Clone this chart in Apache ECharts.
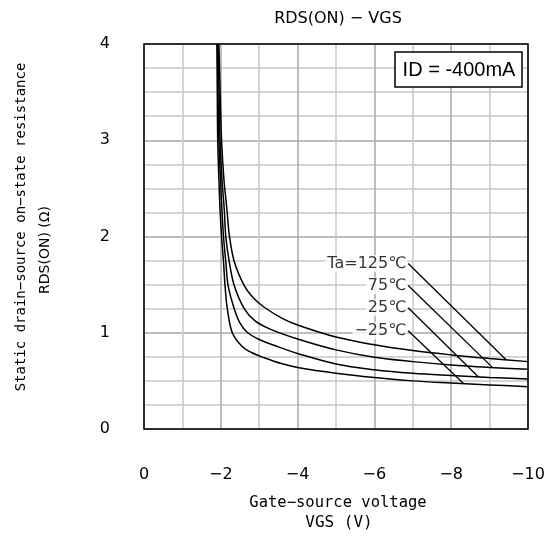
<!DOCTYPE html>
<html>
<head>
<meta charset="utf-8">
<script src="https://cdn.jsdelivr.net/npm/echarts@6/dist/echarts.min.js"></script>
<style>
  html, body { margin: 0; padding: 0; background: #fff; }
  #chart { width: 555px; height: 539px; }
</style>
</head>
<body>
<div id="chart"></div>
<script>
// RDS(ON) - VGS curves ([VGS (V), RDS(ON) (ohm)])
const curve125 = [[-1.95, 4.0], [-1.99, 3.4], [-2.02, 3.0], [-2.08, 2.6], [-2.16, 2.28], [-2.22, 2.02],
  [-2.35, 1.74], [-2.61, 1.49], [-2.85, 1.36], [-3.13, 1.265], [-3.6, 1.15], [-4, 1.08], [-5, 0.955],
  [-6, 0.875], [-7, 0.815], [-8, 0.77], [-9, 0.733], [-10, 0.70]];
const curve75 = [[-1.93, 4.0], [-1.96, 3.4], [-1.98, 3.0], [-2.03, 2.6], [-2.09, 2.28], [-2.13, 2.0],
  [-2.22, 1.74], [-2.35, 1.49], [-2.61, 1.25], [-2.9, 1.12], [-3.3, 1.035], [-4, 0.935], [-5, 0.822],
  [-6, 0.745], [-7, 0.70], [-8, 0.665], [-9, 0.64], [-10, 0.62]];
const curve25 = [[-1.91, 4.0], [-1.93, 3.4], [-1.95, 3.0], [-1.99, 2.6], [-2.03, 2.28], [-2.07, 2.0],
  [-2.13, 1.74], [-2.19, 1.49], [-2.35, 1.25], [-2.5, 1.1], [-2.7, 1.0], [-3.0, 0.93], [-3.5, 0.853],
  [-4, 0.785], [-5, 0.675], [-6, 0.615], [-7, 0.578], [-8, 0.555], [-9, 0.535], [-10, 0.52]];
const curveM25 = [[-1.9, 4.0], [-1.91, 3.4], [-1.92, 3.0], [-1.95, 2.6], [-1.98, 2.28], [-2.02, 2.0],
  [-2.07, 1.74], [-2.11, 1.49], [-2.17, 1.25], [-2.3, 1.0], [-2.55, 0.86], [-2.8, 0.795], [-3.13, 0.74],
  [-3.6, 0.677], [-4, 0.64], [-5, 0.58], [-6, 0.535], [-7, 0.50], [-8, 0.478], [-9, 0.458], [-10, 0.44]];

const curves = [curve125, curve75, curve25, curveM25];
const curveNames = ['Ta=125℃', '75℃', '25℃', '−25℃'];
// leader lines: label anchor -> point on curve
const labelAnchors = [[-6.88, 1.72], [-6.88, 1.49], [-6.88, 1.26], [-6.88, 1.02]];
const leaderEnds = [[-9.43, 0.719], [-9.08, 0.638], [-8.71, 0.541], [-8.32, 0.472]];

const xMin = -10, xMax = 0, xStep = 2;
const yMin = 0, yMax = 4, yStep = 1;
const condition = 'ID = -400mA';

const G = { left: 144, top: 44, width: 384, height: 385 };
const SANS = 'DejaVu Sans';
const MONO = 'DejaVu Sans Mono';

const chart = echarts.init(document.getElementById('chart'), null, { renderer: 'canvas' });

const series = [];
curves.forEach((data, i) => {
  series.push({
    name: curveNames[i],
    type: 'line',
    // ascending x for the smoothing
    data: data.slice().reverse(),
    smooth: 0.35,
    symbol: 'none',
    lineStyle: { color: '#000', width: 1.5 },
    z: 3,
  });
});
labelAnchors.forEach((p, i) => {
  series.push({
    type: 'line',
    data: [p, leaderEnds[i]],
    symbol: 'none',
    lineStyle: { color: '#000', width: 1.3 },
    z: 3,
  });
});
series.push({
  type: 'scatter',
  symbolSize: 0,
  data: labelAnchors.map((p, i) => ({ value: p, name: curveNames[i] })),
  label: {
    show: true,
    position: 'left',
    distance: 1,
    formatter: '{b}',
    color: '#000',
    fontFamily: SANS,
    fontSize: 16,
    backgroundColor: '#fff',
    padding: [1, 1, 0, 2],
  },
  z: 4,
});

chart.setOption({
  animation: false,
  backgroundColor: '#fff',
  grid: { left: G.left, top: G.top, width: G.width, height: G.height },
  xAxis: {
    type: 'value',
    min: xMin,
    max: xMax,
    interval: xStep,
    inverse: true,
    axisLine: { show: false },
    axisTick: { show: false },
    axisLabel: {
      margin: 38,
      color: '#000',
      fontFamily: SANS,
      fontSize: 16,
      formatter: v => (v === 0 ? '0' : '−' + Math.abs(v)),
    },
    splitLine: { show: true, lineStyle: { color: '#a8a8a8', width: 1.5 } },
    minorTick: { show: false, splitNumber: 2 },
    minorSplitLine: { show: true, lineStyle: { color: '#c8c8c8', width: 1.5 } },
  },
  yAxis: {
    type: 'value',
    min: yMin,
    max: yMax,
    interval: yStep,
    axisLine: { show: false },
    axisTick: { show: false },
    axisLabel: { margin: 34, color: '#000', fontFamily: SANS, fontSize: 16, padding: [6, 0, 0, 0] },
    splitLine: { show: true, lineStyle: { color: '#a8a8a8', width: 1.5 } },
    minorTick: { show: false, splitNumber: 4 },
    minorSplitLine: { show: true, lineStyle: { color: '#c8c8c8', width: 1.5 } },
  },
  graphic: [
    {
      type: 'rect', z: 100, silent: true,
      shape: { x: G.left, y: G.top, width: G.width, height: G.height },
      style: { fill: 'none', stroke: '#000', lineWidth: 1.5 },
    },
    {
      type: 'rect', z: 100,
      shape: { x: 395, y: 52, width: 127, height: 35 },
      style: { fill: '#fff', stroke: '#000', lineWidth: 1.5 },
    },
    {
      type: 'text', z: 101, x: 459, y: 70,
      style: { text: condition, fill: '#000', font: '20px "Liberation Sans"', textAlign: 'center', textVerticalAlign: 'middle' },
    },
    {
      type: 'text', x: 338, y: 19,
      style: { text: 'RDS(ON) − VGS', fill: '#000', font: '16px "' + SANS + '"', textAlign: 'center', textVerticalAlign: 'middle' },
    },
    {
      type: 'text', x: 21, y: 227, rotation: Math.PI / 2,
      style: { text: 'Static drain−source on−state resistance', fill: '#000', font: '14px "' + MONO + '"', textAlign: 'center', textVerticalAlign: 'middle' },
    },
    {
      type: 'text', x: 45, y: 250, rotation: Math.PI / 2,
      style: { text: 'RDS(ON) (Ω)', fill: '#000', font: '14px "' + SANS + '"', textAlign: 'center', textVerticalAlign: 'middle' },
    },
    {
      type: 'text', x: 338, y: 503,
      style: { text: 'Gate−source voltage', fill: '#000', font: '15.5px "' + MONO + '"', textAlign: 'center', textVerticalAlign: 'middle' },
    },
    {
      type: 'text', x: 339, y: 523,
      style: { text: 'VGS (V)', fill: '#000', font: '16px "' + MONO + '"', textAlign: 'center', textVerticalAlign: 'middle' },
    },
  ],
  series,
});
</script>
</body>
</html>
